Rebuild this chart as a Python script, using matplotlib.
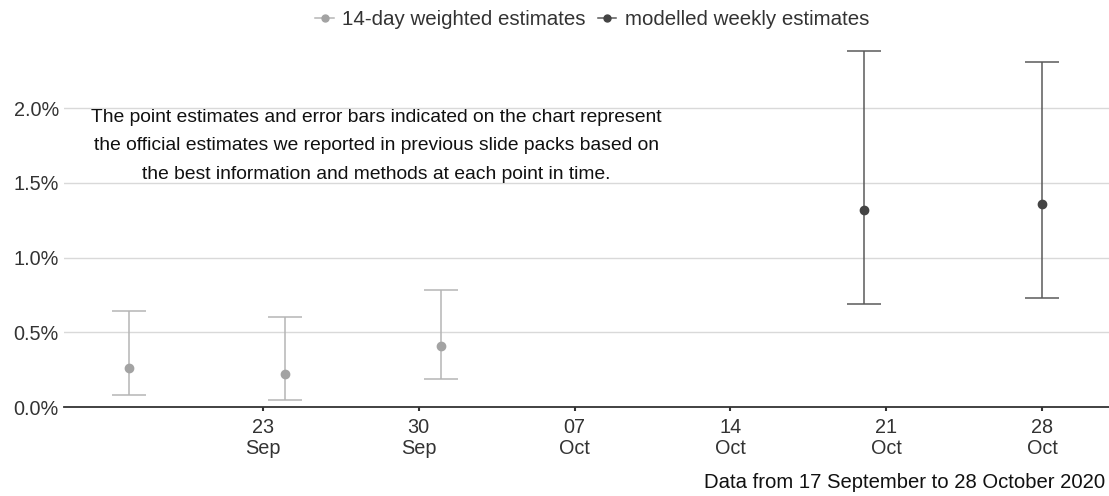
import numpy as np
import pandas as pd
import matplotlib
matplotlib.use("Agg")
import matplotlib.pyplot as plt
import matplotlib.dates as mdates
from matplotlib.lines import Line2D
from matplotlib.ticker import FuncFormatter

plt.rcParams['font.family'] = ['Liberation Sans', 'DejaVu Sans']

# ── Data (prevalence %) ──────────────────────────
weighted_dates = ['2020-09-17', '2020-09-24', '2020-10-01']
weighted_est = [0.26, 0.22, 0.41]
weighted_low = [0.08, 0.05, 0.19]
weighted_high = [0.64, 0.60, 0.78]

modelled_dates = ['2020-10-20', '2020-10-28']
modelled_est = [1.32, 1.36]
modelled_low = [0.69, 0.73]
modelled_high = [2.38, 2.31]

tick_dates = ['2020-09-23', '2020-09-30', '2020-10-07',
              '2020-10-14', '2020-10-21', '2020-10-28']
y_ticks = [0.0, 0.5, 1.0, 1.5, 2.0]

note = ("The point estimates and error bars indicated on the chart represent\n"
        "the official estimates we reported in previous slide packs based on\n"
        "the best information and methods at each point in time.")
caption = "Data from 17 September to 28 October 2020"

light = '#a3a3a3'
light_bar = '#b5b5b5'
dark = '#444444'
dark_bar = '#5a5a5a'

fig = plt.figure(figsize=(11.09, 4.96), dpi=100)
ax = fig.add_axes([0.058, 0.1794, 0.942, 0.738])

wd = pd.to_datetime(weighted_dates)
we = np.array(weighted_est)
ax.errorbar(wd, we,
            yerr=[we - np.array(weighted_low), np.array(weighted_high) - we],
            fmt='o', color=light, ecolor=light_bar, elinewidth=1.1,
            capsize=12, capthick=1.1, markersize=6, zorder=3)

md = pd.to_datetime(modelled_dates)
me = np.array(modelled_est)
ax.errorbar(md, me,
            yerr=[me - np.array(modelled_low), np.array(modelled_high) - me],
            fmt='o', color=dark, ecolor=dark_bar, elinewidth=1.1,
            capsize=12, capthick=1.1, markersize=6, zorder=3)

ax.set_xlim(pd.Timestamp('2020-09-14 02:00'), pd.Timestamp('2020-10-31 00:00'))
ax.set_ylim(0, 2.45)

ax.set_xticks(pd.to_datetime(tick_dates))
ax.xaxis.set_major_formatter(mdates.DateFormatter('%d\n%b'))
ax.set_yticks(y_ticks)
ax.yaxis.set_major_formatter(FuncFormatter(lambda v, p: f'{v:.1f}%'))

ax.grid(axis='y', color='#d9d9d9', linewidth=1.0)
ax.set_axisbelow(True)
for s in ['left', 'right', 'top']:
    ax.spines[s].set_visible(False)
ax.spines['bottom'].set_color('#333333')
ax.spines['bottom'].set_linewidth(1.3)
ax.spines['bottom'].set_zorder(4)

ax.tick_params(axis='y', length=0, pad=4, labelsize=14.3, labelcolor='#333333')
ax.tick_params(axis='x', length=3, width=1.5, color='#333333', pad=5,
               labelsize=14.3, labelcolor='#333333')
for lab in ax.get_xticklabels():
    lab.set_linespacing(1.1)

fig.text(376 / 1109, (496 - 146) / 496, note, ha='center', va='center',
         fontsize=13.9, color='#111111', linespacing=1.85)

fig.text(1105 / 1109, (496 - 483) / 496, caption, ha='right', va='center',
         fontsize=14.6, color='#111111')

handles = [
    Line2D([0], [0], color=light_bar, marker='o', markerfacecolor=light,
           markeredgecolor=light, markersize=5, linewidth=1.1),
    Line2D([0], [0], color=dark_bar, marker='o', markerfacecolor=dark,
           markeredgecolor=dark, markersize=5, linewidth=1.1),
]
fig.legend(handles, ['14-day weighted estimates', 'modelled weekly estimates'],
           loc='center', bbox_to_anchor=(0.534, 0.96), ncol=2, frameon=False,
           fontsize=14.8, handlelength=0.9, handletextpad=0.4,
           columnspacing=0.6, labelcolor='#333333')

plt.savefig('out.png', dpi=100)
